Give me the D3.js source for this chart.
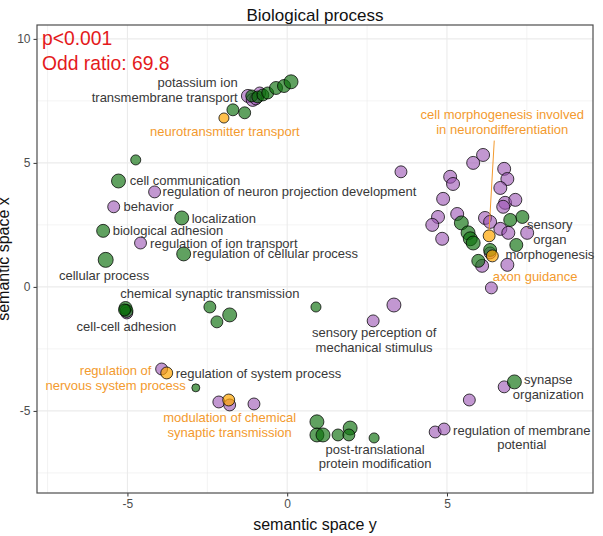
<!DOCTYPE html>
<html>
<head>
<meta charset="utf-8">
<script src="https://cdn.jsdelivr.net/npm/d3@7"></script>
<style>
  html, body { margin: 0; padding: 0; background: #ffffff; }
  svg { display: block; font-family: "Liberation Sans", Arial, Helvetica, sans-serif; }
</style>
</head>
<body>
<svg id="chart" width="603" height="536"></svg>
<script>
// ---- GO terms (biological process) in a 2-D semantic space ----
// term coordinates: semantic space y (horizontal), semantic space x (vertical), term size

// cluster A terms (green)
const greenX = [-1.70, -1.33, -1.11, -0.92, -0.76, -0.61, -0.35, -0.10, 0.12,
  -4.74, -5.28, -3.30, -5.76, -3.24, -5.68, -5.06, -5.03, -5.09,
  -2.42, -1.80, -2.20, 0.90, 7.11, 0.93, 0.93, 1.12, 1.59, 1.97, 1.93, 2.72, -2.86,
  5.45, 5.66, 5.73, 5.82, 6.98, 7.36, 7.17, 6.35, 5.98];
const greenY = [7.14, 7.02, 7.70, 7.66, 7.74, 7.82, 8.02, 8.10, 8.27,
  5.12, 4.27, 2.78, 2.26, 1.33, 1.09, -0.85, -0.97, -0.93,
  -0.81, -1.13, -1.41, -0.81, -3.83, -5.44, -5.97, -5.97, -5.97, -5.69, -5.97, -6.09, -4.07,
  2.58, 2.18, 1.94, 1.77, 2.70, 2.82, 1.69, 1.49, 1.05];
const greenSize = [38, 38, 38, 38, 38, 38, 45, 45, 52,
  27, 52, 52, 45, 52, 60, 45, 45, 38,
  38, 52, 38, 27, 52, 52, 52, 52, 38, 52, 38, 27, 17,
  52, 52, 52, 52, 45, 45, 45, 45, 45];

// cluster B terms (purple)
const purpleX = [-1.23, -1.08, -0.86, -0.98, -4.15, -5.43, -4.59, -5.02, 3.34, 2.69,
  6.39, 6.79, 5.70, 4.63, 4.91, -3.93, -2.14, -1.80, -1.04, 3.56,
  5.82, 6.13, 6.79, 6.89, 6.67, 5.10, 5.19, 4.88, 4.72, 4.54, 4.85, 5.32,
  6.19, 6.35, 6.82, 7.14, 6.76, 6.67, 6.92, 7.51, 6.35, 6.10, 6.89];
const purpleY = [7.70, 7.54, 7.82, 7.58, 3.83, 3.23, 1.77, -1.05, -0.73, -1.37,
  -0.04, -4.03, -4.56, -5.85, -5.73, -3.31, -4.64, -4.76, -4.72, 4.64,
  5.00, 5.32, 4.76, 4.35, 3.99, 4.44, 4.15, 3.55, 2.82, 2.50, 1.94, 2.94,
  2.78, 2.62, 3.39, 3.51, 3.23, 2.34, 2.18, 2.18, 1.37, 0.85, 0.89];
const purpleSize = [45, 45, 38, 38, 38, 38, 38, 38, 52, 38,
  38, 38, 38, 38, 38, 38, 38, 38, 38, 38,
  45, 45, 45, 45, 45, 45, 45, 45, 45, 45, 45, 45,
  45, 45, 45, 45, 45, 45, 45, 45, 38, 45, 45];

// highlighted terms (orange)
const orangeX = [-1.98, 6.32, 6.42, -3.77, -1.83];
const orangeY = [6.81, 2.06, 1.25, -3.47, -4.56];
const orangeSize = [27, 38, 38, 38, 38];

// term labels: text lines, label position, alignment, highlighted or not
const labelText = [
  ["potassium ion", "transmembrane transport"],
  ["neurotransmitter transport"],
  ["cell morphogenesis involved", "in neurondifferentiation"],
  ["cell communication"],
  ["regulation of neuron projection development"],
  ["behavior"],
  ["localization"],
  ["biological adhesion"],
  ["regulation of ion transport"],
  ["regulation of cellular process"],
  ["cellular process"],
  ["chemical synaptic transmission"],
  ["cell-cell adhesion"],
  ["sensory perception of", "mechanical stimulus"],
  ["regulation of system process"],
  ["regulation of", "nervous system process"],
  ["modulation of chemical", "synaptic transmission"],
  ["post-translational", "protein modification"],
  ["regulation of membrane", "potential"],
  ["synapse", "organization"],
  ["sensory", "organ", "morphogenesis"],
  ["axon guidance"]
];
const labelX = [-1.55, -1.95, 6.73, -4.93, -3.90, -5.12, -2.99, -5.46, -4.29, -2.96,
  -5.73, -2.42, -5.03, 2.72, -3.49, -5.37, -1.80, 2.75, 7.34, 8.17, 8.22, 7.76];
const labelY = [8.23, 6.25, 6.94, 4.29, 3.83, 3.23, 2.78, 2.26, 1.77, 1.33,
  0.46, -0.28, -1.60, -1.84, -3.48, -3.38, -5.27, -6.54, -5.77, -3.75, 2.50, 0.42];
const labelAlign = ["end", "middle", "middle", "start", "start", "start", "start", "start", "start", "start",
  "middle", "middle", "middle", "middle", "start", "middle", "middle", "middle", "middle", "middle", "middle", "middle"];
const labelHighlight = [false, true, true, false, false, false, false, false, false, false,
  false, false, false, false, false, true, true, false, false, false, false, true];

// axis ticks and titles
const xTicks = [-5, 0, 5];
const yTicks = [-5, 0, 5, 10];
const gridBreaks = [-7.5, -5, -2.5, 0, 2.5, 5, 7.5, 10];
const chartTitle = "Biological process";
const xTitle = "semantic space y";
const yTitle = "semantic space x";
const statLines = ["p<0.001", "Odd ratio: 69.8"];

// ---- layout ----
const svg = d3.select("#chart");
const panel = { left: 37, right: 593, top: 25, bottom: 493 };

const x = d3.scaleLinear().domain([-7.83, 9.57]).range([panel.left, panel.right]);
const y = d3.scaleLinear().domain([-8.31, 10.56]).range([panel.bottom, panel.top]);
const r = d3.scaleSqrt().domain([0, 60]).range([0, 7.5]);

const colText = "#383838";
const colHigh = "#F39A2E";

// grid
const grid = svg.append("g");
gridBreaks.filter(v => v >= x.domain()[0] && v <= x.domain()[1]).forEach(v => {
  grid.append("line").attr("x1", x(v)).attr("x2", x(v)).attr("y1", panel.top).attr("y2", panel.bottom)
    .attr("stroke", "#ebebeb").attr("stroke-width", Number.isInteger(v) ? 1.1 : 0.6);
});
gridBreaks.filter(v => v >= y.domain()[0] && v <= y.domain()[1]).forEach(v => {
  grid.append("line").attr("y1", y(v)).attr("y2", y(v)).attr("x1", panel.left).attr("x2", panel.right)
    .attr("stroke", "#ebebeb").attr("stroke-width", Number.isInteger(v) ? 1.1 : 0.6);
});

// axes
const xAxis = svg.append("g").attr("transform", `translate(0,${panel.bottom})`)
  .call(d3.axisBottom(x).tickValues(xTicks).tickSize(3.5).tickPadding(3).tickFormat(d3.format("d")));
const yAxis = svg.append("g").attr("transform", `translate(${panel.left},0)`)
  .call(d3.axisLeft(y).tickValues(yTicks).tickSize(3.5).tickPadding(3).tickFormat(d3.format("d")));
[xAxis, yAxis].forEach(g => {
  g.select(".domain").remove();
  g.selectAll(".tick line").attr("stroke", "#333333").attr("stroke-width", 1);
  g.selectAll(".tick text").attr("fill", "#4d4d4d").attr("font-size", 12)
    .attr("font-family", "Liberation Sans, Arial, sans-serif");
});
xAxis.selectAll(".tick text").text(d => d < 0 ? "-" + Math.abs(d) : d);
yAxis.selectAll(".tick text").text(d => d < 0 ? "-" + Math.abs(d) : d);

// points
function rows(xs, ys, ss) { return xs.map((v, i) => ({ x: v, y: ys[i], s: ss[i] })); }
const groups = [
  { data: rows(purpleX, purpleY, purpleSize), fill: "#9a52b2", op: 0.6 },
  { data: rows(greenX, greenY, greenSize), fill: "#0a6e0a", op: 0.65 },
  { data: rows(orangeX, orangeY, orangeSize), fill: "#ffa500", op: 0.7 }
];
const pts = svg.append("g");
groups.forEach(g => {
  pts.append("g").selectAll("circle").data(g.data).join("circle")
    .attr("cx", d => x(d.x)).attr("cy", d => y(d.y)).attr("r", d => r(d.s))
    .attr("fill", g.fill).attr("fill-opacity", g.op)
    .attr("stroke", "#000").attr("stroke-opacity", 0.75).attr("stroke-width", 1);
});

// connector for the long orange label
const lineH = 14.8;
const segFrom = { x: x(labelX[2]) - 8, y: y(labelY[2]) + lineH + 11 };
const segTo = { x: x(orangeX[1]), y: y(orangeY[1]) - r(orangeSize[1]) };
svg.append("line").attr("x1", segFrom.x).attr("y1", segFrom.y).attr("x2", segTo.x).attr("y2", segTo.y)
  .attr("stroke", colHigh).attr("stroke-width", 1);

// term labels
const labels = svg.append("g").attr("font-size", 13);
labelText.forEach((lines, i) => {
  const t = labels.append("text")
    .attr("text-anchor", labelAlign[i])
    .attr("fill", labelHighlight[i] ? colHigh : colText);
  lines.forEach((s, j) => {
    t.append("tspan").attr("x", x(labelX[i])).attr("y", y(labelY[i]) + j * lineH)
      .attr("dy", "0.35em").text(s);
  });
});

// panel border
svg.append("rect").attr("x", panel.left).attr("y", panel.top)
  .attr("width", panel.right - panel.left).attr("height", panel.bottom - panel.top)
  .attr("fill", "none").attr("stroke", "#4d4d4d").attr("stroke-width", 1.2);

// statistics annotation
svg.append("g").selectAll("text").data(statLines).join("text")
  .attr("x", 42).attr("y", (d, i) => 45 + i * 25)
  .attr("fill", "#e41a1c").attr("font-size", 19.3).text(d => d);

// titles
svg.append("text").attr("x", (panel.left + panel.right) / 2).attr("y", 21)
  .attr("text-anchor", "middle").attr("font-size", 17).attr("fill", "#111").text(chartTitle);
svg.append("text").attr("x", (panel.left + panel.right) / 2).attr("y", 530)
  .attr("text-anchor", "middle").attr("font-size", 16).attr("fill", "#111").text(xTitle);
svg.append("text").attr("transform", `translate(9,${(panel.top + panel.bottom) / 2}) rotate(-90)`)
  .attr("text-anchor", "middle").attr("font-size", 16).attr("fill", "#111").text(yTitle);
</script>
</body>
</html>
